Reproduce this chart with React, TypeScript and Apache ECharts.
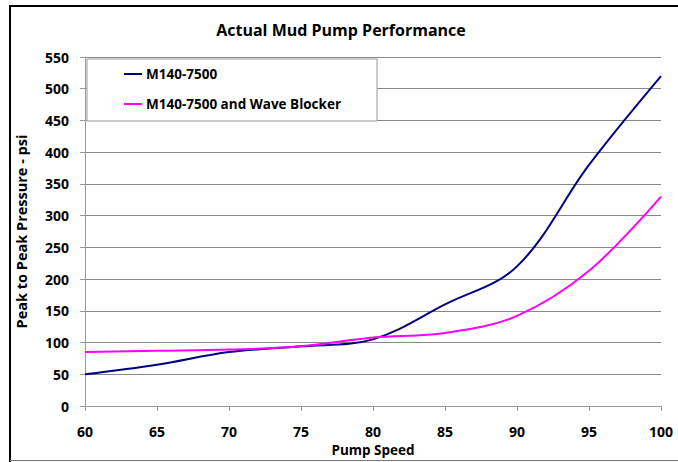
import React, { useEffect, useRef } from "react";
import * as echarts from "echarts";

const pumpSpeed = [60, 65, 70, 75, 80, 85, 90, 95, 100];
const m140 = [50, 65, 85, 94, 105, 160, 220, 380, 520];
const m140Wave = [85, 87, 89, 94, 108, 115, 142, 213, 330];
const seriesNames = ["M140-7500", "M140-7500 and Wave Blocker"];

const FONT = "'Open Sans', 'Noto Sans', sans-serif";

export default function App() {
  const ref = useRef<HTMLDivElement>(null);
  useEffect(() => {
    if (!ref.current) return;
    const chart = echarts.init(ref.current, undefined, { renderer: "svg" });
    chart.setOption({
      animation: false,
      backgroundColor: "#ffffff",
      title: {
        text: "Actual Mud Pump Performance",
        left: 336,
        top: 17,
        textAlign: "center",
        textStyle: { fontFamily: FONT, fontSize: 16, fontWeight: "bold", color: "#000" },
      },
      graphic: [
        { type: "line", shape: { x1: 10, y1: 6, x2: 10, y2: 462 }, style: { stroke: "#000", lineWidth: 2 } },
        { type: "line", shape: { x1: 9, y1: 6, x2: 678, y2: 6 }, style: { stroke: "#000", lineWidth: 2 } },
        { type: "line", shape: { x1: 10, y1: 460.5, x2: 678, y2: 460.5 }, style: { stroke: "#777", lineWidth: 1 } },
      ],
      legend: {
        orient: "vertical",
        left: 87,
        top: 59,
        data: seriesNames,
        icon: "rect",
        padding: [7, 36, 9, 37],
        itemGap: 14,
        itemWidth: 18,
        itemHeight: 2,
        backgroundColor: "#fff",
        borderColor: "#999",
        borderWidth: 1,
        textStyle: {
          fontFamily: FONT,
          fontSize: 13.5,
          lineHeight: 16,
          fontWeight: "bold",
          color: "#000",
          padding: [0, 0, 0, -1],
        },
      },
      grid: { left: 85, right: 17, top: 57, bottom: 54, containLabel: false },
      xAxis: {
        type: "value",
        min: 60,
        max: 100,
        interval: 5,
        name: "Pump Speed",
        nameLocation: "middle",
        nameGap: 37,
        nameTextStyle: { fontFamily: FONT, fontSize: 13.5, fontWeight: "bold", color: "#000" },
        axisLine: { show: true, lineStyle: { color: "#999", width: 1 } },
        axisTick: { show: true, length: 5, lineStyle: { color: "#999" } },
        axisLabel: { fontFamily: FONT, fontSize: 14, fontWeight: "bold", color: "#000", margin: 18 },
        splitLine: { show: false },
      },
      yAxis: {
        type: "value",
        min: 0,
        max: 550,
        interval: 50,
        name: "Peak to Peak Pressure - psi",
        nameLocation: "middle",
        nameGap: 56,
        nameRotate: 90,
        nameTextStyle: { fontFamily: FONT, fontSize: 14.5, fontWeight: "bold", color: "#000" },
        axisLine: { show: true, lineStyle: { color: "#999", width: 1 } },
        axisTick: { show: true, length: 5, lineStyle: { color: "#999" } },
        axisLabel: { fontFamily: FONT, fontSize: 14, fontWeight: "bold", color: "#000", margin: 16 },
        splitLine: { show: true, lineStyle: { color: "#888", width: 1 } },
      },
      series: [
        {
          name: seriesNames[0],
          type: "line",
          data: pumpSpeed.map((x, i) => [x, m140[i]]),
          smooth: 0.35,
          symbol: "none",
          lineStyle: { color: "#000080", width: 2 },
          itemStyle: { color: "#000080" },
        },
        {
          name: seriesNames[1],
          type: "line",
          data: pumpSpeed.map((x, i) => [x, m140Wave[i]]),
          smooth: 0.35,
          symbol: "none",
          lineStyle: { color: "#ff00ff", width: 2 },
          itemStyle: { color: "#ff00ff" },
        },
      ],
    });
    return () => chart.dispose();
  }, []);
  return (
    <div
      ref={ref}
      style={{ position: "fixed", left: 0, top: 0, width: 678, height: 462 }}
    />
  );
}
